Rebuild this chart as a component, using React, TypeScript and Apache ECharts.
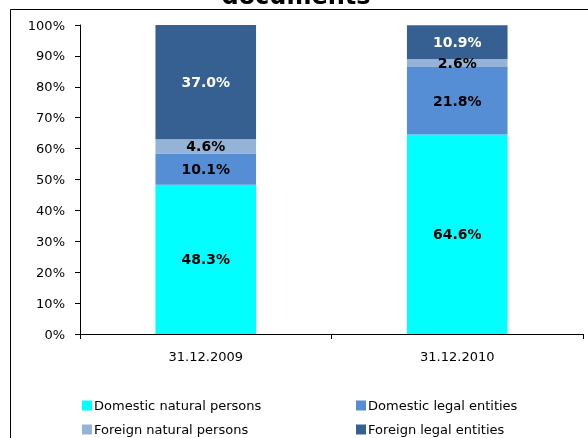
import React, { useEffect, useRef } from "react";
import * as echarts from "echarts";

const categories = ["31.12.2009", "31.12.2010"];
const domesticNatural = [48.3, 64.6];
const domesticLegal = [10.1, 21.8];
const foreignNatural = [4.6, 2.6];
const foreignLegal = [37.0, 10.9];
const seriesNames = [
  "Domestic natural persons",
  "Domestic legal entities",
  "Foreign natural persons",
  "Foreign legal entities",
];
const yTicks = [0, 10, 20, 30, 40, 50, 60, 70, 80, 90, 100];
const titleText = "documents";

const FONT = "Tahoma, 'DejaVu Sans', sans-serif";

export default function App() {
  const ref = useRef<HTMLDivElement>(null);
  useEffect(() => {
    if (!ref.current) return;
    const chart = echarts.init(ref.current, null, { renderer: "svg" });
    const colors = ["#00FFFF", "#558ED5", "#95B3D7", "#376092"];
    const data = [domesticNatural, domesticLegal, foreignNatural, foreignLegal];
    const labelColors = ["#000", "#000", "#000", "#fff"];
    const legendBase = {
      orient: "vertical",
      bottom: 2,
      padding: 0,
      itemWidth: 10,
      itemHeight: 10,
      itemGap: 11,
      icon: "rect",
      textStyle: { fontFamily: FONT, fontSize: 13, color: "#000", padding: [0, 0, 0, -3] },
    };
    chart.setOption({
      animation: false,
      graphic: [
        {
          type: "rect",
          shape: { x: 10.5, y: 9.5, width: 600, height: 460 },
          style: { fill: "none", stroke: "#000", lineWidth: 1 },
          silent: true,
        },
        {
          type: "text",
          x: 296,
          y: -16,
          style: {
            text: titleText,
            align: "center",
            verticalAlign: "top",
            font: `bold 24px ${FONT}`,
            fill: "#000",
          },
          silent: true,
        },
      ],
      legend: [
        { ...legendBase, data: [seriesNames[0], seriesNames[2]], left: 82 },
        { ...legendBase, data: [seriesNames[1], seriesNames[3]], left: 356 },
      ],
      grid: { left: 80, right: 5, top: 25, bottom: 104, containLabel: false },
      xAxis: {
        type: "category",
        data: categories,
        axisLine: { lineStyle: { color: "#000", width: 1 } },
        axisTick: { show: true, length: 5, lineStyle: { color: "#000" } },
        axisLabel: { color: "#000", fontFamily: FONT, fontSize: 13, margin: 16 },
      },
      yAxis: {
        type: "value",
        min: yTicks[0],
        max: yTicks[yTicks.length - 1],
        interval: 10,
        axisLine: { show: true, lineStyle: { color: "#000", width: 1 } },
        axisTick: { show: true, length: 5, lineStyle: { color: "#000" } },
        splitLine: { show: false },
        axisLabel: {
          color: "#000",
          fontFamily: FONT,
          fontSize: 13,
          margin: 15,
          formatter: (v: number) => `${v}%`,
        },
      },
      series: seriesNames.map((name, i) => ({
        name,
        type: "bar",
        stack: "total",
        barWidth: "40%",
        data: data[i],
        itemStyle: { color: colors[i] },
        label: {
          show: true,
          position: "inside",
          color: labelColors[i],
          fontFamily: FONT,
          fontSize: 14,
          fontWeight: "bold",
          formatter: (p: any) => `${Number(p.value).toFixed(1)}%`,
        },
      })),
    });
    return () => chart.dispose();
  }, []);
  return (
    <div
      ref={ref}
      style={{ position: "fixed", left: 0, top: 0, width: 588, height: 438 }}
    />
  );
}
